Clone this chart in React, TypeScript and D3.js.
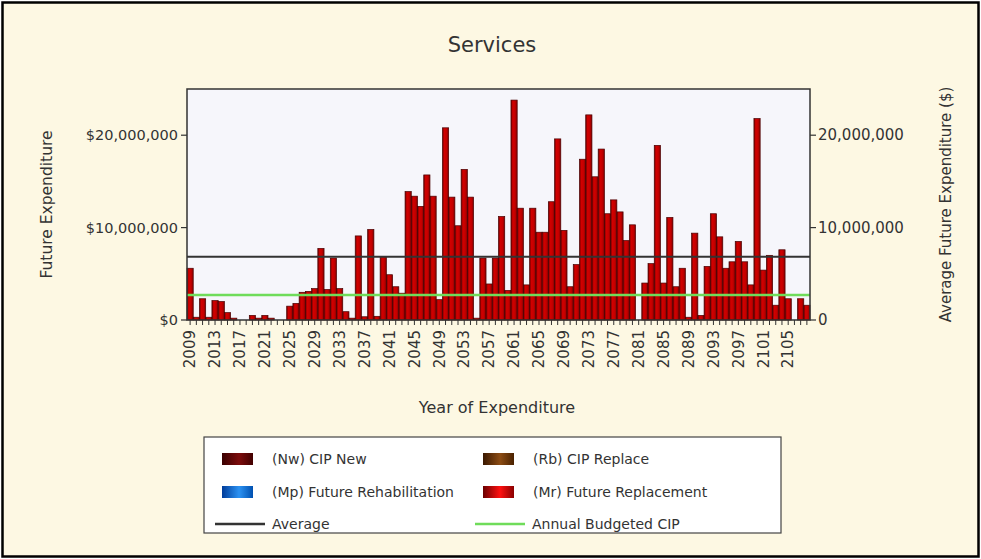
import React from 'react';
import * as d3 from 'd3';

// Category axis: year of expenditure
const years: number[] = d3.range(2009, 2109);
// (Mr) Future Replacement, millions of $ per year
const futureReplacement: number[] = [
  5.6, 0.3, 2.3, 0.3, 2.1, 2.0, 0.8, 0.2, 0, 0,
  0.5, 0.2, 0.5, 0.2, 0, 0, 1.5, 1.8, 3.0, 3.1,
  3.4, 7.75, 3.3, 6.7, 3.4, 0.9, 0.2, 9.1, 0.35, 9.8,
  0.4, 6.85, 4.9, 3.6, 2.9, 13.9, 13.4, 12.3, 15.7, 13.4,
  2.2, 20.8, 13.3, 10.2, 16.3, 13.3, 0.2, 6.7, 3.9, 6.7,
  11.2, 3.2, 23.8, 12.1, 3.8, 12.1, 9.5, 9.5, 12.8, 19.6,
  9.7, 3.6, 6.0, 17.4, 22.2, 15.5, 18.5, 11.5, 13.0, 11.7,
  8.6, 10.3, 0, 4.0, 6.1, 18.9, 4.0, 11.1, 3.6, 5.6,
  0.3, 9.4, 0.5, 5.8, 11.5, 9.0, 5.6, 6.3, 8.5, 6.3,
  3.8, 21.8, 5.4, 7.0, 1.6, 7.6, 2.3, 0, 2.3, 1.6,
];
const annualBudgetedCIP = 2.7; // millions
const yTicks: number[] = [0, 10, 20];
const xTickStep = 4;

const legendBars = [
  { name: '(Nw) CIP New', id: 'gNw', stops: ['#3a0000', '#7c0c0c', '#420000'] },
  { name: '(Rb) CIP Replace', id: 'gRb', stops: ['#3a1800', '#8c4c14', '#4a2200'] },
  { name: '(Mp) Future Rehabilitation', id: 'gMp', stops: ['#003c9a', '#2c92f2', '#0050b0'] },
  { name: '(Mr) Future Replacement', id: 'gMr', stops: ['#6a0000', '#ff1010', '#8a0000'] },
];
const legendLines = [
  { name: 'Average', color: '#333333' },
  { name: 'Annual Budgeted CIP', color: '#6fdc5a' },
];

const FONT = '"DejaVu Sans", Verdana, sans-serif';
const TXT = '#333';

export default function App() {
  const W = 981, H = 559;
  const plot = { left: 187, right: 810, top: 89, bottom: 320 };
  const x = d3.scaleBand<number>().domain(years).range([plot.left, plot.right]).padding(0);
  const y = d3.scaleLinear().domain([0, 25]).range([plot.bottom, plot.top]);
  const avg = d3.mean(futureReplacement) ?? 0;
  const fmt = d3.format(',');
  const bw = x.bandwidth();

  const legendX = 204, legendY = 437, legendW = 577, legendH = 96;
  const col1 = 222, col2 = 483, rows = [459, 492, 524];

  return (
    <svg width={W} height={H} style={{ position: 'absolute', left: 0, top: 0 }} fontFamily={FONT}>
      <defs>
        <linearGradient id="barGrad" x1="0" x2="1" y1="0" y2="0">
          <stop offset="0%" stopColor="#6e0000" />
          <stop offset="30%" stopColor="#d20000" />
          <stop offset="65%" stopColor="#c40000" />
          <stop offset="100%" stopColor="#840000" />
        </linearGradient>
        {legendBars.map((l) => (
          <linearGradient key={l.id} id={l.id} x1="0" x2="1" y1="0" y2="0">
            <stop offset="0%" stopColor={l.stops[0]} />
            <stop offset="55%" stopColor={l.stops[1]} />
            <stop offset="100%" stopColor={l.stops[2]} />
          </linearGradient>
        ))}
      </defs>
      <rect x={0} y={0} width={W} height={H} fill="#fff" />
      <rect x={2.5} y={2.5} width={W - 5} height={H - 5} fill="#fdf8e3" stroke="#000" strokeWidth={2.5} />

      <text x={492} y={52} textAnchor="middle" fontSize={21} fill={TXT}>Services</text>

      {/* plot background */}
      <rect x={plot.left} y={plot.top} width={plot.right - plot.left} height={plot.bottom - plot.top} fill="#f6f6fb" />

      {/* bars */}
      {futureReplacement.map((v, i) => (
        v > 0 ? (
          <rect key={years[i]} x={x(years[i])!} y={y(v)} width={bw} height={y(0) - y(v)}
            fill="url(#barGrad)" stroke="#4a0000" strokeWidth={0.7} />
        ) : null
      ))}

      {/* lines */}
      <line x1={plot.left} x2={plot.right} y1={y(annualBudgetedCIP)} y2={y(annualBudgetedCIP)} stroke="#6fdc5a" strokeWidth={2.5} />
      <line x1={plot.left} x2={plot.right} y1={y(avg)} y2={y(avg)} stroke="#333" strokeWidth={2} />

      {/* frame */}
      <rect x={plot.left} y={plot.top} width={plot.right - plot.left} height={plot.bottom - plot.top} fill="none" stroke="#333" strokeWidth={1.5} />

      {/* left axis */}
      {yTicks.map((t) => (
        <g key={'l' + t}>
          <line x1={plot.left - 6} x2={plot.left} y1={y(t)} y2={y(t)} stroke="#333" strokeWidth={1.2} />
          <text x={plot.left - 9} y={y(t)} dy="0.35em" textAnchor="end" fontSize={14.5} fill={TXT}>
            {'$' + fmt(t * 1e6)}
          </text>
        </g>
      ))}
      <text transform={`translate(47,${(plot.top + plot.bottom) / 2}) rotate(-90)`} textAnchor="middle" dy="0.35em" fontSize={15.5} fill={TXT}>
        Future Expenditure
      </text>

      {/* right axis */}
      {yTicks.map((t) => (
        <g key={'r' + t}>
          <line x1={plot.right} x2={plot.right + 6} y1={y(t)} y2={y(t)} stroke="#333" strokeWidth={1.2} />
          <text x={plot.right + 8} y={y(t)} dy="0.35em" textAnchor="start" fontSize={15} fill={TXT}>
            {fmt(t * 1e6)}
          </text>
        </g>
      ))}
      <text transform={`translate(946,${(plot.top + plot.bottom) / 2}) rotate(-90)`} textAnchor="middle" dy="0.35em" fontSize={15} fill={TXT}>
        Average Future Expenditure ($)
      </text>

      {/* x axis ticks */}
      {years.map((yr) => (
        <line key={'t' + yr} x1={x(yr)! + bw / 2} x2={x(yr)! + bw / 2} y1={plot.bottom} y2={plot.bottom + 5} stroke="#333" strokeWidth={1} />
      ))}
      {years.filter((yr) => (yr - years[0]) % xTickStep === 0).map((yr) => (
        <text key={'x' + yr} transform={`translate(${x(yr)! + bw / 2},330) rotate(-90)`} dy="0.35em" textAnchor="end" fontSize={15} fill={TXT}>
          {yr}
        </text>
      ))}
      <text x={497} y={413} textAnchor="middle" fontSize={16} fill={TXT}>Year of Expenditure</text>

      {/* legend */}
      <rect x={legendX} y={legendY} width={legendW} height={legendH} fill="#fff" stroke="#444" strokeWidth={1.2} />
      {legendBars.map((l, i) => {
        const cx = i % 2 === 0 ? col1 : col2;
        const cy = rows[Math.floor(i / 2)];
        return (
          <g key={l.id}>
            <rect x={cx} y={cy - 6} width={31} height={12} fill={`url(#${l.id})`} />
            <text x={cx + 50} y={cy} dy="0.35em" fontSize={14} fill={TXT}>{l.name}</text>
          </g>
        );
      })}
      {legendLines.map((l, i) => {
        const cx = i === 0 ? col1 - 7 : col2 - 8;
        const cy = rows[2];
        return (
          <g key={l.name}>
            <line x1={cx} x2={cx + 50} y1={cy} y2={cy} stroke={l.color} strokeWidth={2.5} />
            <text x={i === 0 ? col1 + 50 : col2 + 49} y={cy} dy="0.35em" fontSize={14} fill={TXT}>{l.name}</text>
          </g>
        );
      })}
    </svg>
  );
}
